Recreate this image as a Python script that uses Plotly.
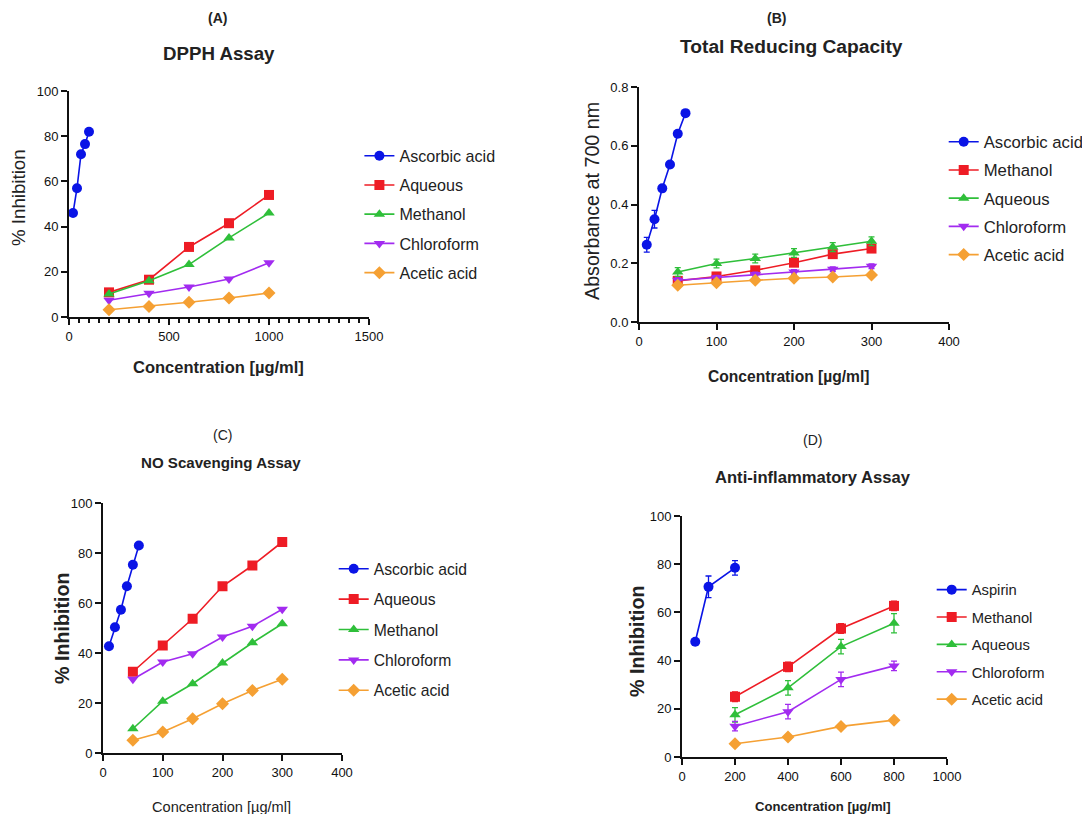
import plotly.graph_objects as go

# ---------------- data ----------------
# (A) DPPH assay
A_x_std = [20, 40, 60, 80, 100]
A_ascorbic = [46, 57, 72, 76.5, 82]
A_x = [200, 400, 600, 800, 1000]
A_aqueous = [10.9, 16.5, 31, 41.5, 54]
A_methanol = [10.2, 16, 23.2, 35, 46]
A_chloroform = [7.4, 10.5, 13.3, 16.8, 24]
A_acetic = [3.2, 4.7, 6.5, 8.4, 10.6]

# (B) Total reducing capacity
B_x_std = [10, 20, 30, 40, 50, 60]
B_ascorbic = [0.263, 0.35, 0.455, 0.536, 0.641, 0.711]
B_ascorbic_err = [0.025, 0.03, 0.01, 0.01, 0.01, 0.008]
B_x = [50, 100, 150, 200, 250, 300]
B_methanol = [0.14, 0.155, 0.176, 0.202, 0.231, 0.25]
B_methanol_err = [0.01, 0.01, 0.012, 0.012, 0.012, 0.012]
B_aqueous = [0.17, 0.199, 0.216, 0.235, 0.255, 0.275]
B_aqueous_err = [0.015, 0.015, 0.015, 0.015, 0.015, 0.015]
B_chloroform = [0.142, 0.151, 0.162, 0.17, 0.18, 0.19]
B_chloroform_err = [0.008, 0.008, 0.008, 0.008, 0.008, 0.008]
B_acetic = [0.125, 0.134, 0.142, 0.149, 0.153, 0.16]
B_acetic_err = [0.005, 0.005, 0.005, 0.005, 0.005, 0.005]

# (C) NO scavenging assay
C_x_std = [10, 20, 30, 40, 50, 60]
C_ascorbic = [42.7, 50.3, 57.3, 66.7, 75.3, 83]
C_x = [50, 100, 150, 200, 250, 300]
C_aqueous = [32.5, 43, 53.7, 66.7, 75, 84.4]
C_methanol = [9.7, 20.7, 27.7, 36, 44.1, 51.7]
C_chloroform = [29.5, 36.4, 39.7, 46.4, 50.7, 57.5]
C_acetic = [5.1, 8.4, 13.7, 19.7, 25, 29.5]

# (D) Anti-inflammatory assay
D_x_std = [50, 100, 200]
D_aspirin = [47.8, 70.6, 78.5]
D_aspirin_err = [1, 4.5, 3]
D_x = [200, 400, 600, 800]
D_methanol = [25, 37.4, 53.3, 62.7]
D_methanol_err = [2, 2, 2, 2]
D_aqueous = [17.5, 28.7, 45.8, 55.5]
D_aqueous_err = [3, 3, 3, 4]
D_chloroform = [12.8, 18.8, 32.2, 37.8]
D_chloroform_err = [2, 3, 3, 2]
D_acetic = [5.5, 8.3, 12.7, 15.3]
D_acetic_err = [1, 1, 1, 1]

# ---------------- styles ----------------
BLUE = "#0a14e6"
RED = "#ee1c25"
GREEN = "#2fbf3a"
PURPLE = "#a22bf0"
ORANGE = "#f5a033"
FONT = "Liberation Sans, Arial, sans-serif"

fig = go.Figure()


def add(name, x, y, color, symbol, xa, ya, legend, err=None, size=10):
    kw = {}
    if err is not None:
        kw["error_y"] = dict(type="data", array=err, visible=True,
                             color=color, thickness=1.3, width=3)
    fig.add_trace(go.Scatter(
        x=x, y=y, name=name, mode="lines+markers",
        line=dict(color=color, width=1.6),
        marker=dict(color=color, symbol=symbol, size=size),
        xaxis=xa, yaxis=ya, legend=legend, legendgroup=legend + name,
        cliponaxis=False, **kw))


# Panel A
add("Ascorbic acid", A_x_std, A_ascorbic, BLUE, "circle", "x", "y", "legend")
add("Aqueous", A_x, A_aqueous, RED, "square", "x", "y", "legend")
add("Methanol", A_x, A_methanol, GREEN, "triangle-up", "x", "y", "legend")
add("Chloroform", A_x, A_chloroform, PURPLE, "triangle-down", "x", "y", "legend")
add("Acetic acid", A_x, A_acetic, ORANGE, "diamond", "x", "y", "legend")

# Panel B
add("Ascorbic acid", B_x_std, B_ascorbic, BLUE, "circle", "x2", "y2", "legend2", B_ascorbic_err)
add("Methanol", B_x, B_methanol, RED, "square", "x2", "y2", "legend2", B_methanol_err)
add("Aqueous", B_x, B_aqueous, GREEN, "triangle-up", "x2", "y2", "legend2", B_aqueous_err)
add("Chloroform", B_x, B_chloroform, PURPLE, "triangle-down", "x2", "y2", "legend2", B_chloroform_err)
add("Acetic acid", B_x, B_acetic, ORANGE, "diamond", "x2", "y2", "legend2", B_acetic_err)

# Panel C
add("Ascorbic acid", C_x_std, C_ascorbic, BLUE, "circle", "x3", "y3", "legend3")
add("Aqueous", C_x, C_aqueous, RED, "square", "x3", "y3", "legend3")
add("Methanol", C_x, C_methanol, GREEN, "triangle-up", "x3", "y3", "legend3")
add("Chloroform", C_x, C_chloroform, PURPLE, "triangle-down", "x3", "y3", "legend3")
add("Acetic acid", C_x, C_acetic, ORANGE, "diamond", "x3", "y3", "legend3")

# Panel D
add("Aspirin", D_x_std, D_aspirin, BLUE, "circle", "x4", "y4", "legend4", D_aspirin_err)
add("Methanol", D_x, D_methanol, RED, "square", "x4", "y4", "legend4", D_methanol_err)
add("Aqueous", D_x, D_aqueous, GREEN, "triangle-up", "x4", "y4", "legend4", D_aqueous_err)
add("Chloroform", D_x, D_chloroform, PURPLE, "triangle-down", "x4", "y4", "legend4", D_chloroform_err)
add("Acetic acid", D_x, D_acetic, ORANGE, "diamond", "x4", "y4", "legend4", D_acetic_err)

# page body has an 8px margin; figure sized to fit the window
OFF = 8
W, H = 1090 - 2 * OFF, 822 - 2 * OFF


def px_x(t):
    return (t - OFF) / W


def px_y(t):
    return 1 - (t - OFF) / H


def axis(domain_px, rng, dtick, anchor, vertical=False, minor=None, fmt=None):
    if vertical:
        dom = [px_y(domain_px[1]), px_y(domain_px[0])]
    else:
        dom = [px_x(domain_px[0]), px_x(domain_px[1])]
    d = dict(domain=dom, range=rng, dtick=dtick, tick0=0, anchor=anchor,
             automargin=False,
             showgrid=False, zeroline=False, showline=True, linecolor="#111",
             linewidth=2, ticks="outside", ticklen=6, tickwidth=2, tickcolor="#111",
             tickfont=dict(family=FONT, size=13, color="#111"))
    if minor:
        d["minor"] = dict(dtick=minor, ticklen=4, tickwidth=1.5, tickcolor="#111", ticks="outside")
    if fmt:
        d["tickformat"] = fmt
    return d


fig.update_layout(
    width=W, height=H, autosize=False,
    margin=dict(l=0, r=0, t=0, b=0, pad=0, autoexpand=False),
    paper_bgcolor="white", plot_bgcolor="white",
    font=dict(family=FONT, color="#222"),
    xaxis=axis([69, 369], [0, 1500], 500, "y", minor=50),
    yaxis=axis([91, 317], [0, 100], 20, "x", vertical=True),
    xaxis2=axis([639, 949], [0, 400], 100, "y2"),
    yaxis2=axis([87, 322], [0, 0.8], 0.2, "x2", vertical=True, fmt=".1f"),
    xaxis3=axis([103, 342], [0, 400], 100, "y3"),
    yaxis3=axis([503, 753], [0, 100], 20, "x3", vertical=True),
    xaxis4=axis([682, 947], [0, 1000], 200, "y4"),
    yaxis4=axis([516, 757], [0, 100], 20, "x4", vertical=True),
)


def legend(text_x, first_y, fs, gap):
    # legend box position from where the first label should appear
    page_x = text_x - 41.3
    page_y = first_y - (18.2 + (fs - 16) * 0.6)
    return dict(x=px_x(page_x), y=px_y(page_y),
                xanchor="left", yanchor="top", itemwidth=30,
                tracegroupgap=gap, bgcolor="rgba(0,0,0,0)",
                font=dict(family=FONT, size=fs, color="#222"))


fig.update_layout(
    legend=legend(400.7, 157, 16.1, 5.3),
    legend2=legend(985, 143, 16.7, 3.5),
    legend3=legend(375, 570, 15.7, 7),
    legend4=legend(973, 591, 14.75, 5.2),
)

ann = []


def text(x, y, s, size, bold=False, angle=0, family=FONT):
    ann.append(dict(x=px_x(x), y=px_y(y), xref="paper", yref="paper", showarrow=False,
                    text=f"<b>{s}</b>" if bold else s, textangle=angle,
                    font=dict(family=family, size=size, color="#222"),
                    xanchor="center", yanchor="middle"))


# titles
text(217, 18, "(A)", 14, True)
text(219, 53, "DPPH Assay", 18.7, True)
text(776, 18, "(B)", 14, True)
text(791, 46, "Total Reducing Capacity", 19.2, True)
text(222, 435, "(C)", 14)
text(221, 462, "NO Scavenging Assay", 15.1, True)
text(812, 440, "(D)", 14)
text(813, 478, "Anti-inflammatory Assay", 16.6, True)

# axis titles
text(18, 198, "% Inhibition", 18.7, angle=-90)
text(218, 367, "Concentration [µg/ml]", 16.5, True)
text(592, 201, "Absorbance at 700 nm", 19.7, angle=-90)
text(788, 376, "Concentration [µg/ml]", 15.6, True)
text(62, 628, "% Inhibition", 19.7, True, angle=-90)
text(221, 807, "Concentration [µg/ml]", 14.6)
text(637, 641, "% Inhibition", 19.7, True, angle=-90)
text(823, 806, "Concentration [µg/ml]", 13.1, True)

fig.update_layout(annotations=ann)

fig.write_html("out.html")
